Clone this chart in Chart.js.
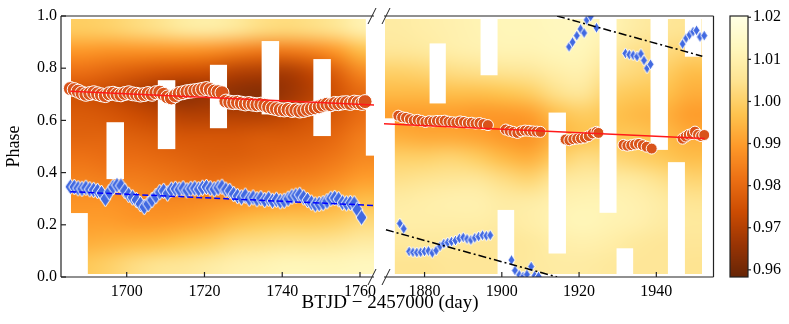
<!DOCTYPE html>
<html>
<head>
<meta charset="utf-8">
<script src="https://cdn.jsdelivr.net/npm/chart.js@4.4.1/dist/chart.umd.min.js"></script>
<style>
  html, body { margin: 0; padding: 0; background: #fff; }
  #wrap { position: relative; width: 789px; height: 324px; overflow: hidden; font-family: "Liberation Serif", "Times New Roman", serif; }
  canvas { position: absolute; top: 0; }
  #xtitle { position: absolute; left: 0; width: 780px; top: 292px; text-align: center; font-size: 19px; line-height: 19px; color: #000; }
</style>
</head>
<body>
<div id="wrap">
  <canvas id="leftPanel" width="383" height="324" style="left:0"></canvas>
  <canvas id="rightPanel" width="345" height="324" style="left:375px"></canvas>
  <canvas id="cbar" width="69" height="324" style="left:720px"></canvas>
  <div id="xtitle">BTJD − 2457000 (day)</div>
</div>
<script>
// axis ranges and ticks
const leftDays = [1683.1, 1763.6];
const rightDays = [1869.5, 1954.8];
const leftTicks = [1700, 1720, 1740, 1760];
const rightTicks = [1880, 1900, 1920, 1940];
const phaseTicks = [0, 0.2, 0.4, 0.6, 0.8, 1.0];
const cbarTicks = [0.96, 0.97, 0.98, 0.99, 1.00, 1.01, 1.02];
const cbarRange = [0.9583, 1.0203];

// relative flux map; each row is a phase bin, first row = phase 0.05, last row = phase 0.95
const heatPhase = [0.01, 0.987];
const leftHeatDays = [1685.6, 1763.6];
const leftHeat = [
  [0.998, 1.000, 1.003, 1.005, 1.006, 1.008, 1.010, 1.011, 1.012, 1.012, 1.012, 1.013],
  [0.993, 0.994, 0.995, 0.996, 0.998, 1.000, 1.003, 1.004, 1.005, 1.005, 1.006, 1.008],
  [0.990, 0.990, 0.989, 0.989, 0.990, 0.992, 0.995, 0.997, 0.998, 0.998, 0.999, 1.002],
  [0.988, 0.988, 0.987, 0.986, 0.986, 0.987, 0.988, 0.989, 0.990, 0.991, 0.993, 0.996],
  [0.985, 0.984, 0.984, 0.983, 0.982, 0.981, 0.982, 0.983, 0.984, 0.985, 0.987, 0.990],
  [0.982, 0.981, 0.981, 0.980, 0.979, 0.978, 0.978, 0.979, 0.980, 0.981, 0.983, 0.986],
  [0.979, 0.979, 0.978, 0.977, 0.976, 0.976, 0.976, 0.977, 0.977, 0.978, 0.980, 0.984],
  [0.977, 0.976, 0.974, 0.972, 0.970, 0.970, 0.970, 0.970, 0.972, 0.975, 0.977, 0.981],
  [0.975, 0.973, 0.970, 0.967, 0.964, 0.966, 0.964, 0.963, 0.966, 0.970, 0.975, 0.980],
  [0.981, 0.979, 0.977, 0.975, 0.974, 0.973, 0.970, 0.969, 0.968, 0.972, 0.978, 0.986],
  [0.989, 0.988, 0.988, 0.988, 0.988, 0.987, 0.985, 0.983, 0.983, 0.985, 0.989, 0.996],
  [0.999, 1.000, 1.002, 1.004, 1.007, 1.008, 1.006, 1.003, 1.002, 1.003, 1.005, 1.010]
];
const rightHeatDays = [1869.8, 1951.7];
const rightHeat = [
  [1.005, 1.005, 1.006, 1.006, 1.006, 1.007, 1.008, 1.008, 1.007, 1.006, 1.006, 1.005],
  [1.007, 1.007, 1.007, 1.006, 1.006, 1.007, 1.009, 1.010, 1.009, 1.007, 1.006, 1.006],
  [1.009, 1.009, 1.009, 1.009, 1.008, 1.009, 1.011, 1.012, 1.011, 1.010, 1.008, 1.007],
  [1.008, 1.009, 1.010, 1.010, 1.008, 1.008, 1.010, 1.011, 1.011, 1.010, 1.008, 1.005],
  [1.004, 1.005, 1.006, 1.006, 1.003, 1.001, 1.006, 1.008, 1.008, 1.007, 1.004, 1.001],
  [1.000, 1.000, 1.001, 0.999, 0.995, 0.993, 0.999, 1.003, 1.002, 1.000, 0.998, 0.996],
  [0.993, 0.992, 0.992, 0.991, 0.989, 0.988, 0.994, 0.997, 0.998, 0.998, 0.996, 0.993],
  [0.990, 0.990, 0.990, 0.989, 0.989, 0.990, 0.996, 0.999, 0.997, 0.995, 0.994, 0.990],
  [0.995, 0.995, 0.996, 0.996, 0.997, 0.999, 1.004, 1.006, 1.000, 0.998, 0.997, 0.993],
  [1.000, 1.001, 1.003, 1.004, 1.005, 1.006, 1.009, 1.010, 1.004, 1.002, 1.000, 0.996],
  [1.006, 1.007, 1.009, 1.010, 1.011, 1.011, 1.012, 1.012, 1.008, 1.004, 1.003, 1.001],
  [1.008, 1.009, 1.010, 1.011, 1.012, 1.012, 1.013, 1.013, 1.011, 1.008, 1.006, 1.005]
];

// empty parts of the map: [day from, day to, phase from, phase to]
const leftGaps = [
  [1685.6, 1690.0, 0, 0.245], [1694.8, 1699.3, 0.375, 0.593], [1708.0, 1712.5, 0.49, 0.754],
  [1721.4, 1725.8, 0.57, 0.813], [1734.7, 1739.2, 0.623, 0.904], [1748.0, 1752.5, 0.54, 0.835],
  [1761.5, 1764.0, 0.465, 1]
];
const rightGaps = [
  [1869.3, 1872.3, 0, 0.608], [1881.3, 1885.5, 0.665, 0.895], [1894.5, 1898.9, 0.773, 1],
  [1898.9, 1903.2, 0, 0.257], [1912.1, 1916.6, 0.09, 0.63], [1925.3, 1929.7, 0.246, 1],
  [1929.7, 1934.0, 0, 0.11], [1938.5, 1943.0, 0.487, 1], [1943.0, 1947.4, 0, 0.44],
  [1947.4, 1951.7, 0.844, 1]
];

// spot phases [day, phase]
const orangeLeft = [
  [1685.5, 0.722], [1686.5, 0.718], [1687.5, 0.712], [1688.5, 0.705], [1689.5, 0.700], [1690.5, 0.703],
  [1691.5, 0.706], [1692.5, 0.702], [1693.5, 0.698], [1694.5, 0.695], [1695.5, 0.702], [1696.5, 0.704],
  [1697.5, 0.700], [1698.5, 0.698], [1699.5, 0.703], [1700.5, 0.706], [1701.5, 0.702], [1702.5, 0.700],
  [1703.5, 0.697], [1704.5, 0.699], [1705.5, 0.703], [1706.5, 0.700], [1707.5, 0.706], [1708.5, 0.708],
  [1709.5, 0.700], [1710.5, 0.690], [1711.5, 0.686], [1712.5, 0.695], [1713.5, 0.703], [1714.5, 0.706],
  [1715.5, 0.710], [1716.5, 0.712], [1717.5, 0.714], [1718.5, 0.716], [1719.5, 0.719], [1720.5, 0.722],
  [1721.5, 0.718], [1722.5, 0.712], [1723.5, 0.710], [1724.5, 0.706], [1725.5, 0.674], [1726.5, 0.670],
  [1727.5, 0.668], [1728.5, 0.669], [1729.5, 0.666], [1730.5, 0.663], [1731.5, 0.665], [1732.5, 0.662],
  [1733.5, 0.660], [1734.5, 0.662], [1735.5, 0.658], [1736.5, 0.652], [1737.5, 0.648], [1738.5, 0.645],
  [1739.5, 0.641], [1740.5, 0.640], [1741.5, 0.642], [1742.5, 0.638], [1743.5, 0.640], [1744.5, 0.636],
  [1745.5, 0.638], [1746.5, 0.642], [1747.5, 0.645], [1748.5, 0.648], [1749.5, 0.652], [1750.5, 0.658],
  [1751.5, 0.662], [1752.5, 0.660], [1753.5, 0.665], [1754.5, 0.664], [1755.5, 0.667], [1756.5, 0.668],
  [1757.5, 0.665], [1758.5, 0.670], [1759.5, 0.668], [1760.5, 0.665], [1761.3, 0.672]
];
const blueLeft = [
  [1685.5, 0.346], [1686.5, 0.345], [1687.5, 0.340], [1688.5, 0.338], [1689.5, 0.342], [1690.5, 0.336],
  [1691.5, 0.334], [1692.5, 0.330], [1693.5, 0.322], [1694.5, 0.300], [1695.5, 0.325], [1696.5, 0.345],
  [1697.5, 0.352], [1698.5, 0.350], [1699.5, 0.330], [1700.5, 0.315], [1701.5, 0.305], [1702.5, 0.295],
  [1703.5, 0.280], [1704.5, 0.268], [1705.5, 0.280], [1706.5, 0.295], [1707.5, 0.310], [1708.5, 0.325],
  [1709.5, 0.330], [1710.5, 0.320], [1711.5, 0.335], [1712.5, 0.338], [1713.5, 0.335], [1714.5, 0.340],
  [1715.5, 0.332], [1716.5, 0.338], [1717.5, 0.340], [1718.5, 0.336], [1719.5, 0.342], [1720.5, 0.345],
  [1721.5, 0.340], [1722.5, 0.336], [1723.5, 0.342], [1724.5, 0.346], [1725.5, 0.335], [1726.5, 0.330],
  [1727.5, 0.318], [1728.5, 0.310], [1729.5, 0.305], [1730.5, 0.312], [1731.5, 0.300], [1732.5, 0.305],
  [1733.5, 0.298], [1734.5, 0.302], [1735.5, 0.295], [1736.5, 0.300], [1737.5, 0.292], [1738.5, 0.296],
  [1739.5, 0.290], [1740.5, 0.292], [1741.5, 0.300], [1742.5, 0.308], [1743.5, 0.312], [1744.5, 0.315],
  [1745.5, 0.305], [1746.5, 0.295], [1747.5, 0.285], [1748.5, 0.278], [1749.5, 0.280], [1750.5, 0.283],
  [1751.5, 0.290], [1752.5, 0.300], [1753.5, 0.303], [1754.5, 0.298], [1755.5, 0.285], [1756.5, 0.282],
  [1757.5, 0.284], [1758.5, 0.282], [1759.3, 0.258], [1760.4, 0.228]
];
const orangeRight = [
  [1873.2, 0.618], [1874.2, 0.612], [1875.2, 0.610], [1876.2, 0.605], [1877.2, 0.600], [1878.2, 0.602],
  [1879.2, 0.598], [1880.2, 0.594], [1881.2, 0.597], [1882.2, 0.596], [1883.2, 0.598], [1884.2, 0.598],
  [1885.2, 0.599], [1886.2, 0.595], [1887.2, 0.593], [1888.2, 0.592], [1889.2, 0.596], [1890.2, 0.594],
  [1891.2, 0.590], [1892.2, 0.591], [1893.2, 0.588], [1894.2, 0.590], [1895.2, 0.586], [1896.4, 0.582],
  [1901.0, 0.565], [1902.0, 0.560], [1903.0, 0.556], [1904.0, 0.552], [1905.0, 0.558], [1906.0, 0.561],
  [1907.0, 0.560], [1908.0, 0.558], [1909.0, 0.557], [1910.0, 0.556],
  [1916.5, 0.527], [1917.5, 0.524], [1918.5, 0.528], [1919.5, 0.530], [1920.5, 0.531], [1921.5, 0.534],
  [1922.5, 0.540], [1923.5, 0.550], [1924.5, 0.556], [1925.0, 0.552],
  [1931.5, 0.506], [1932.5, 0.503], [1933.5, 0.505], [1934.5, 0.508], [1935.5, 0.510], [1936.5, 0.505],
  [1937.5, 0.499], [1938.8, 0.492],
  [1946.8, 0.530], [1947.6, 0.538], [1948.4, 0.545], [1949.2, 0.548], [1950.0, 0.557], [1950.8, 0.545],
  [1951.6, 0.540], [1952.4, 0.544]
];
const blueRight = [
  [1873.6, 0.205], [1874.6, 0.185], [1876.0, 0.098], [1877.0, 0.095], [1878.0, 0.094], [1879.0, 0.095],
  [1880.0, 0.098], [1881.0, 0.100], [1882.0, 0.092], [1883.0, 0.102], [1884.0, 0.118], [1885.0, 0.128],
  [1886.0, 0.132], [1887.0, 0.136], [1888.0, 0.140], [1889.0, 0.148], [1890.0, 0.152], [1891.0, 0.146],
  [1892.0, 0.142], [1893.0, 0.150], [1894.0, 0.155], [1895.0, 0.160], [1896.0, 0.158], [1897.0, 0.160],
  [1902.5, 0.065], [1903.4, 0.025], [1904.5, 0.008], [1905.5, 0.002], [1906.5, 0.010], [1907.6, 0.040],
  [1908.5, 0.005], [1909.5, 0.002],
  [1917.4, 0.882], [1918.3, 0.900], [1919.4, 0.925], [1920.4, 0.950], [1921.3, 0.935], [1922.0, 0.985],
  [1923.0, 0.998], [1924.5, 0.955],
  [1932.0, 0.857], [1933.0, 0.852], [1934.0, 0.850], [1935.0, 0.845], [1936.0, 0.855], [1936.8, 0.830],
  [1937.6, 0.800], [1938.5, 0.815],
  [1946.8, 0.893], [1947.7, 0.915], [1948.6, 0.928], [1949.5, 0.940], [1950.4, 0.945], [1951.3, 0.920],
  [1952.4, 0.925]
];

// linear fits
const redFit = [[1685.5, 0.712], [1952.5, 0.5305]];
const blueFitLeft = [[1685.5, 0.327], [1763.6, 0.274]];
const blueFitRightLow = [[1870.0, 0.181], [1914.3, 0.0]];
const blueFitRightHigh = [[1914.3, 1.0], [1951.9, 0.846]];

const serif = '"Liberation Serif", "Times New Roman", serif';
Chart.defaults.font.family = serif;
Chart.defaults.color = '#000';
const tickFont = { family: serif, size: 16 };

const pts = arr => arr.map(([x, y]) => ({ x, y }));

// YlOrBr reversed
const cmapStops = ['#662506', '#993404', '#cc4c02', '#ec7014', '#fe9929', '#fec44f', '#fee391', '#fff7bc', '#ffffe5']
  .map(h => [1, 3, 5].map(i => parseInt(h.substr(i, 2), 16)));
function cmap(v) {
  let t = (v - cbarRange[0]) / (cbarRange[1] - cbarRange[0]);
  t = Math.max(0, Math.min(1, t)) * (cmapStops.length - 1);
  const i = Math.min(Math.floor(t), cmapStops.length - 2), f = t - i;
  const a = cmapStops[i], b = cmapStops[i + 1];
  return a.map((c, k) => Math.round(c + (b[k] - c) * f));
}

function heatPlugin(grid, days, gaps) {
  return {
    id: 'heat',
    beforeDatasetsDraw(chart) {
      const { ctx, chartArea: a, scales: { x, y } } = chart;
      const rows = grid.length, cols = grid[0].length;
      const off = document.createElement('canvas');
      off.width = cols; off.height = rows;
      const octx = off.getContext('2d');
      const img = octx.createImageData(cols, rows);
      grid.forEach((row, r) => row.forEach((v, c) => {
        const [R, G, B] = cmap(v);
        img.data.set([R, G, B, 255], ((rows - 1 - r) * cols + c) * 4);
      }));
      octx.putImageData(img, 0, 0);
      const x0 = x.getPixelForValue(days[0]), x1 = x.getPixelForValue(days[1]);
      const y0 = y.getPixelForValue(heatPhase[1]), y1 = y.getPixelForValue(heatPhase[0]);
      ctx.save();
      ctx.beginPath(); ctx.rect(a.left, a.top, a.width, a.height); ctx.clip();
      ctx.imageSmoothingEnabled = true;
      ctx.imageSmoothingQuality = 'high';
      ctx.drawImage(off, x0, y0, x1 - x0, y1 - y0);
      ctx.fillStyle = '#fff';
      gaps.forEach(([d0, d1, p0, p1]) => {
        const gx0 = x.getPixelForValue(d0), gx1 = x.getPixelForValue(d1);
        const gy0 = y.getPixelForValue(p1), gy1 = y.getPixelForValue(p0);
        ctx.fillRect(gx0, gy0, gx1 - gx0, gy1 - gy0);
      });
      ctx.restore();
    }
  };
}

function framePlugin(side, breakSide, breakShift) {
  return {
    id: 'frame',
    afterDraw(chart) {
      const { ctx, chartArea: a, scales } = chart;
      const L = a.left, R = a.right, T = a.top, B = a.bottom;
      const seg = (x0, y0, x1, y1) => { ctx.beginPath(); ctx.moveTo(x0, y0); ctx.lineTo(x1, y1); ctx.stroke(); };
      ctx.save();
      ctx.strokeStyle = '#222';
      ctx.lineWidth = 1.2;
      seg(L, T, R, T);
      seg(L, B, R, B);
      if (side === 'left') seg(L, T, L, B);
      if (side === 'right') seg(R, T, R, B);
      scales.x.ticks.forEach(t => { const px = scales.x.getPixelForValue(t.value); seg(px, B, px, B - 5); });
      if (side === 'left') scales.y.ticks.forEach(t => { const py = scales.y.getPixelForValue(t.value); seg(L, py, L + 5, py); });
      // broken axis marks
      ctx.lineWidth = 1;
      const bx = (breakSide === 'right' ? R : L) + breakShift;
      [T, B].forEach(by => seg(bx - 4, by + 8, bx + 4, by - 8));
      ctx.restore();
    }
  };
}

function diamond(w, h) {
  const c = document.createElement('canvas');
  c.width = w + 2; c.height = h + 2;
  const g = c.getContext('2d');
  g.beginPath();
  g.moveTo(c.width / 2, 1); g.lineTo(c.width - 1, c.height / 2);
  g.lineTo(c.width / 2, c.height - 1); g.lineTo(1, c.height / 2);
  g.closePath();
  g.fillStyle = '#4169e1'; g.fill();
  g.strokeStyle = '#fff'; g.lineWidth = 1; g.stroke();
  return c;
}

function panelOptions(days, ticks, showY) {
  return {
    responsive: false,
    animation: false,
    devicePixelRatio: 1,
    events: [],
    layout: { padding: showY ? { top: 16, right: 8 } : { top: 16, left: 9, right: 2 } },
    plugins: { legend: { display: false }, tooltip: { enabled: false } },
    scales: {
      x: {
        type: 'linear', min: days[0], max: days[1],
        afterBuildTicks: s => { s.ticks = ticks.map(v => ({ value: v })); },
        afterFit: s => { s.height = 47; },
        grid: { display: false, drawTicks: false },
        border: { display: false },
        ticks: { padding: 5, font: tickFont, autoSkip: false, maxRotation: 0, callback: v => String(v) }
      },
      y: {
        display: showY, min: 0, max: 1,
        afterBuildTicks: s => { s.ticks = phaseTicks.map(v => ({ value: v })); },
        afterFit: s => { s.width = showY ? 61 : 0; },
        grid: { display: false, drawTicks: false },
        border: { display: false },
        ticks: { padding: 4, font: tickFont, callback: v => v.toFixed(1) },
        title: { display: true, text: 'Phase', font: { family: serif, size: 18 }, padding: { top: 3, bottom: 0 } }
      }
    }
  };
}

const lineDs = (data, color, dash) => ({
  type: 'line', data: pts(data), borderColor: color, borderWidth: 1.5,
  borderDash: dash, pointRadius: 0, clip: 0
});
const circleDs = (data, r) => ({
  data: pts(data), pointStyle: 'circle', pointRadius: r,
  backgroundColor: '#d9531a', borderColor: '#fff', borderWidth: 1, clip: 0
});
const diamondDs = (data, w, h) => ({
  data: pts(data), pointStyle: diamond(w, h), pointRadius: h / 2, clip: 0
});

new Chart(document.getElementById('leftPanel'), {
  type: 'scatter',
  data: {
    datasets: [
      lineDs(redFit, '#ff1a1a', []),
      lineDs(blueFitLeft, '#0000ff', [6, 3]),
      circleDs(orangeLeft, 7),
      diamondDs(blueLeft, 11, 16)
    ]
  },
  options: panelOptions(leftDays, leftTicks, true),
  plugins: [heatPlugin(leftHeat, leftHeatDays, leftGaps), framePlugin('left', 'right', -2)]
});

new Chart(document.getElementById('rightPanel'), {
  type: 'scatter',
  data: {
    datasets: [
      lineDs(redFit, '#ff1a1a', []),
      lineDs(blueFitRightLow, '#000', [8, 3, 2, 3]),
      lineDs(blueFitRightHigh, '#000', [8, 3, 2, 3]),
      circleDs(orangeRight, 5.5),
      diamondDs(blueRight, 7, 11)
    ]
  },
  options: panelOptions(rightDays, rightTicks, false),
  plugins: [heatPlugin(rightHeat, rightHeatDays, rightGaps), framePlugin('right', 'left', 2)]
});

const cbarPlugin = {
  id: 'cbarFill',
  beforeDatasetsDraw(chart) {
    const { ctx, chartArea: a, scales: { y } } = chart;
    for (let py = a.top; py < a.bottom; py++) {
      ctx.fillStyle = 'rgb(' + cmap(y.getValueForPixel(py + 0.5)).join(',') + ')';
      ctx.fillRect(a.left, py, a.width, 1);
    }
  },
  afterDraw(chart) {
    const { ctx, chartArea: a, scales: { y } } = chart;
    ctx.save();
    ctx.strokeStyle = '#222';
    ctx.lineWidth = 1.2;
    ctx.strokeRect(a.left, a.top, a.width, a.height);
    y.ticks.forEach(t => {
      const py = y.getPixelForValue(t.value);
      ctx.beginPath(); ctx.moveTo(a.right, py); ctx.lineTo(a.right + 3, py); ctx.stroke();
    });
    ctx.restore();
  }
};

new Chart(document.getElementById('cbar'), {
  type: 'scatter',
  data: { datasets: [] },
  options: {
    responsive: false,
    animation: false,
    devicePixelRatio: 1,
    events: [],
    layout: { padding: { top: 16, bottom: 47, left: 10 } },
    plugins: { legend: { display: false }, tooltip: { enabled: false } },
    scales: {
      x: { display: false, min: 0, max: 1 },
      y: {
        position: 'right', min: cbarRange[0], max: cbarRange[1],
        afterBuildTicks: s => { s.ticks = cbarTicks.map(v => ({ value: v })); },
        afterFit: s => { s.width = 41; },
        grid: { display: false, drawTicks: false },
        border: { display: false },
        ticks: { padding: 5, font: tickFont, callback: v => v.toFixed(2) }
      }
    }
  },
  plugins: [cbarPlugin]
});
</script>
</body>
</html>
